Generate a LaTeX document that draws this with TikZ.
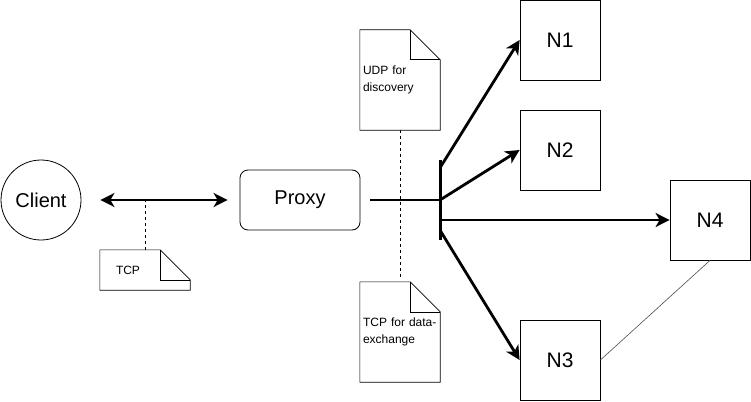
\documentclass[tikz,border=0pt]{standalone}
\usepackage{fontspec}
\setmainfont{Liberation Sans}
\usetikzlibrary{positioning, arrows.meta, calc}
\definecolor{netBlack}{HTML}{000000}
\definecolor{netGray}{HTML}{4D4D4D}

% dog-eared outline round a note node
\newcommand{\notefold}[1]{%
    \draw[noteline] (#1.north west) -- ([xshift=-30pt]#1.north east) -- ([yshift=-30pt]#1.north east)
        -- (#1.south east) -- (#1.south west) -- cycle;
    \draw[noteline] ([xshift=-30pt]#1.north east) |- ([yshift=-30pt]#1.north east);
}

\begin{document}
\begin{tikzpicture}[
    x=1pt, y=-1pt,
    bigfont/.style={font=\fontsize{20}{24}\selectfont},
    client/.style={
        circle, draw=netBlack, line width=0.8pt, minimum size=80pt,
        inner sep=0pt, bigfont
    },
    proxy/.style={
        draw=netBlack, line width=0.8pt, rounded corners=8pt,
        minimum width=120pt, minimum height=60pt, bigfont
    },
    nodebox/.style={
        draw=netBlack, line width=0.8pt, minimum width=80pt,
        minimum height=80pt, inner sep=0pt, font=\fontsize{21}{24}\selectfont
    },
    note/.style={
        minimum width=80pt, minimum height=100pt, inner xsep=3pt,
        text width=74pt, align=left, font=\fontsize{12}{17}\selectfont
    },
    bar/.style={fill=netBlack, minimum width=3pt, minimum height=80pt, inner sep=0pt},
    noteline/.style={draw=netBlack, line width=0.6pt},
    arrow/.style={-{Stealth[length=14pt, width=14pt, inset=4pt]}, line width=2.8pt, draw=netBlack},
    biarrow/.style={{Stealth[length=14pt, width=14pt, inset=4pt]}-{Stealth[length=14pt, width=14pt, inset=4pt]},
        line width=2.8pt, draw=netBlack},
    thickline/.style={line width=2.8pt, draw=netBlack},
    guide/.style={draw=netBlack, line width=0.6pt, dash pattern=on 3pt off 3pt},
    thinline/.style={draw=netGray, line width=0.6pt},
]
\useasboundingbox (0,0) rectangle (751,401);

% Client and Proxy
\node[client] (client) at (41,200) {Client};
\node[proxy] (proxy) at (300,200) {Proxy};

% Switch bar
\node[bar] (bar) at (440,200) {};

% Nodes
\node[nodebox] (n1) at (560,40) {N1};
\node[nodebox] (n2) at (560,150) {N2};
\node[nodebox] (n3) at (560,360) {N3};
\node[nodebox] (n4) at (710,220) {N4};

% Notes
\node[note] (udp) at (400,80) {UDP for\\discovery};
\node[note] (tcpdata) at (400,332) {TCP for data-\\exchange};
\node[note, minimum width=90pt, minimum height=40pt, text width=58pt, inner xsep=16pt] (tcp) at (145,270) {TCP};
\notefold{udp}
\notefold{tcpdata}
\notefold{tcp}

% Connections
\draw[biarrow, shorten <=19pt, shorten >=12pt] (client) -- (proxy);
\draw[thickline] ([xshift=10pt]proxy.east) -- (bar.center);
\draw[arrow] ([yshift=-8pt]bar.north) -- (n1.west);
\draw[arrow] (bar.center) -- (n2.west);
\draw[arrow] ([yshift=-20pt]bar.center) -- (n4.west);
\draw[arrow] ([yshift=10pt]bar.south) -- (n3.west);
\draw[thinline] (n4.south) -- (n3.east);

% Note guides
\draw[guide] (tcp.north) -- (tcp.north |- client.east);
\draw[guide] (udp.south) -- ([yshift=2pt]tcpdata.north);

\end{tikzpicture}
\end{document}
